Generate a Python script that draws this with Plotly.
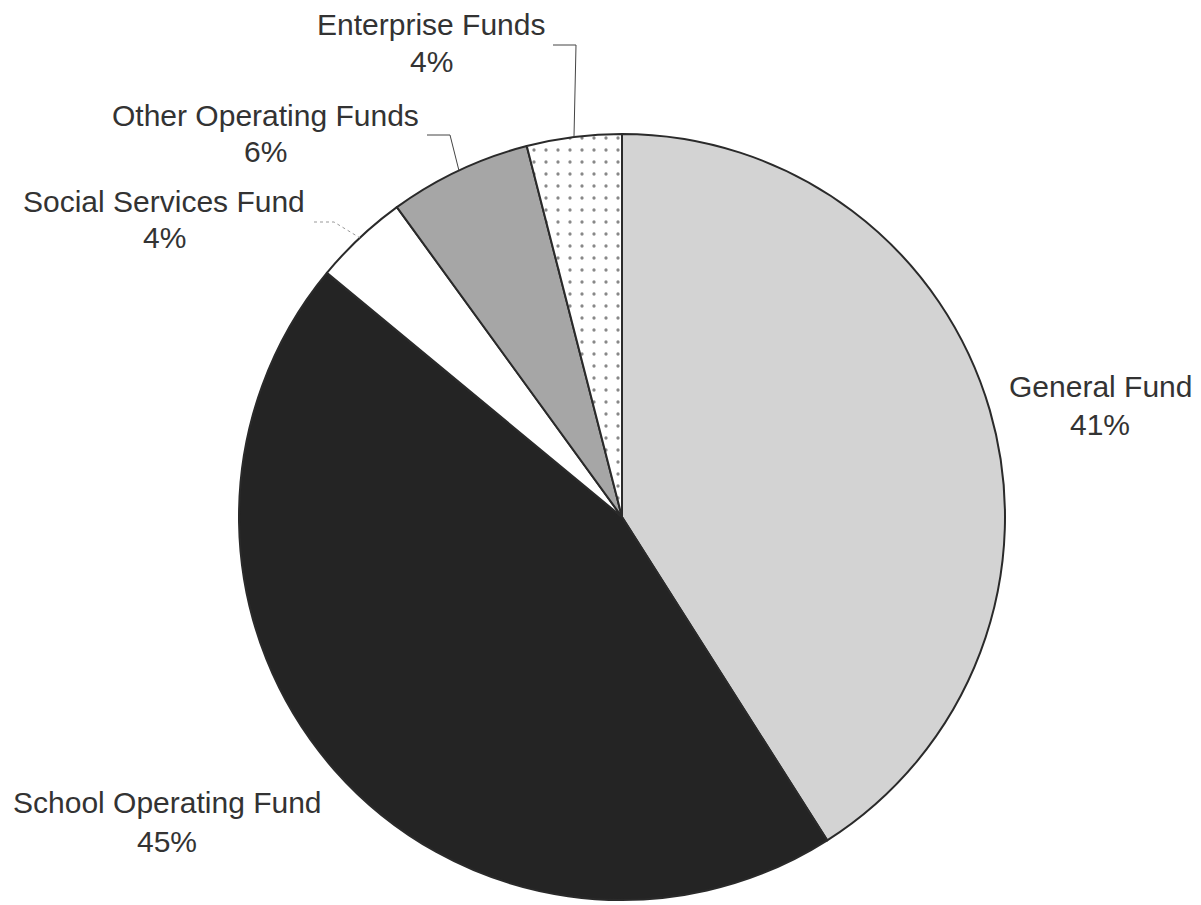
import numpy as np
import plotly.graph_objects as go

# ---- data ----
funds = ["General Fund", "School Operating Fund", "Social Services Fund",
         "Other Operating Funds", "Enterprise Funds"]
shares = [41, 45, 4, 6, 4]
pct_labels = [f"{v}%" for v in shares]

# ---- style / layout constants ----
W, H = 1201, 905
CX, CY, R = 622, 517, 383          # pie centre & radius in px
colors = ["#d3d3d3", "#242424", "#ffffff", "#a6a6a6", "#ffffff"]
patterns = ["", "", "", "", "."]
FONT = dict(family="Liberation Sans, Arial, sans-serif", size=30, color="#333333")

# label centres (px): (x, cap-centre of name line, cap-centre of % line)
label_pos = {
    "General Fund": (1100, 387, 424),
    "School Operating Fund": (167, 802, 841),
    "Social Services Fund": (164, 201, 238),
    "Other Operating Funds": (265, 115, 151),
    "Enterprise Funds": (431, 24, 62),
}
# leader lines: label-side start and elbow (px)
leaders = {
    "Enterprise Funds": ((553, 45), (576, 45), dict(color="#444", width=1)),
    "Other Operating Funds": ((427, 135), (450, 135), dict(color="#444", width=1)),
    "Social Services Fund": ((314, 222), (334, 222), dict(color="#999", width=1, dash="dot")),
}

def px(x, y):
    return x / W, 1 - y / H

fig = go.Figure()
fig.add_trace(go.Pie(
    labels=funds, values=shares, sort=False, direction="clockwise", rotation=0,
    textinfo="none", hoverinfo="label+percent", showlegend=False,
    marker=dict(colors=colors, line=dict(color="#2a2a2a", width=2),
                pattern=dict(shape=patterns, fgcolor="#111111", bgcolor=colors,
                             size=12, solidity=0.06, fillmode="overlay")),
    domain=dict(x=[(CX - R) / W, (CX + R) / W],
                y=[(H - CY - R) / H, (H - CY + R) / H]),
))

# annotations
annotations = []
for name, pct in zip(funds, pct_labels):
    x, y1, y2 = label_pos[name]
    for txt, yy in ((name, y1), (pct, y2)):
        ax, ay = px(x, yy)
        annotations.append(dict(text=txt, x=ax, y=ay, xref="paper", yref="paper",
                                xanchor="center", yanchor="middle",
                                showarrow=False, font=FONT))

# leader lines to slice mid-points on the rim (computed from data)
total = sum(shares)
cum = np.cumsum([0] + shares)
shapes = []
for i, name in enumerate(funds):
    if name not in leaders:
        continue
    mid = (cum[i] + cum[i + 1]) / 2 / total * 2 * np.pi
    ex, ey = CX + R * np.sin(mid), CY - R * np.cos(mid)
    (sx, sy), (bx, by), line = leaders[name]
    p = [px(sx, sy), px(bx, by), px(ex, ey)]
    path = "M {} {} L {} {} L {} {}".format(p[0][0], p[0][1], p[1][0], p[1][1], p[2][0], p[2][1])
    shapes.append(dict(type="path", path=path, xref="paper", yref="paper", line=line))

fig.update_layout(
    width=W, height=H, autosize=False,
    margin=dict(l=0, r=0, t=0, b=0),
    paper_bgcolor="white", plot_bgcolor="white",
    annotations=annotations, shapes=shapes,
)
fig.write_html("out.html")
